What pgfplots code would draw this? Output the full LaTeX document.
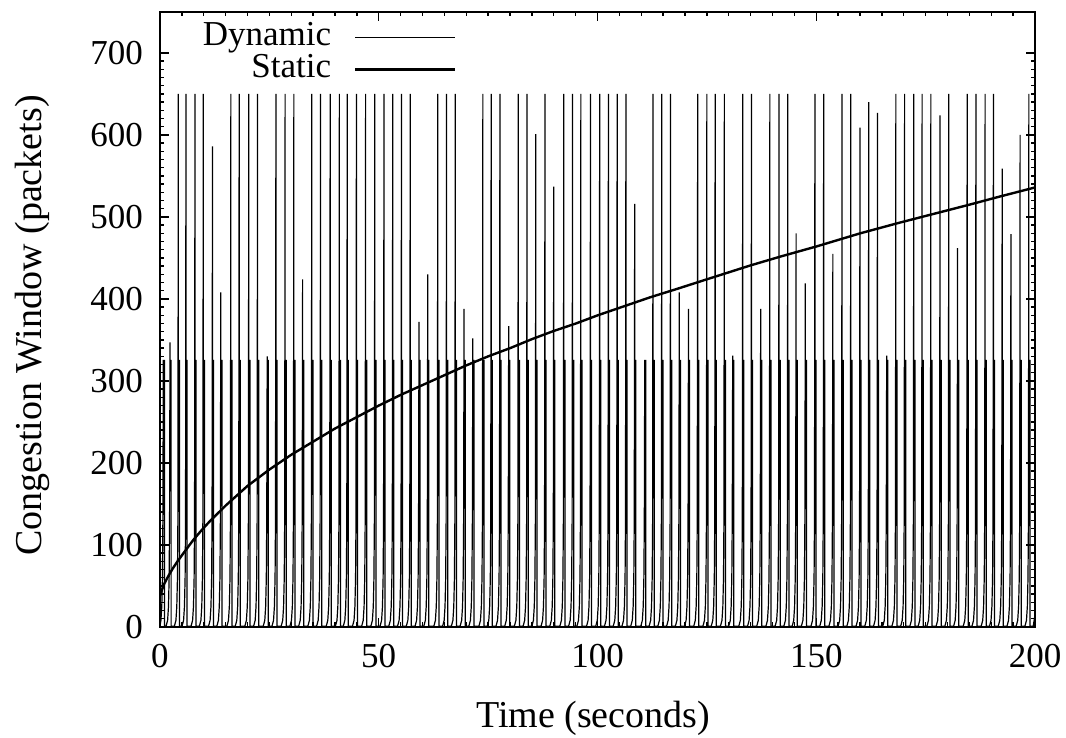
\documentclass[border=0pt]{standalone}
\usepackage{fontspec}
\setmainfont{Liberation Serif}
\usepackage{pgfplots}
\pgfplotsset{compat=1.18}
\begin{document}
\begin{tikzpicture}
\begin{axis}[
  scale only axis, width=437.5pt, height=307.5pt,
  xmin=0, xmax=200, ymin=0, ymax=750,
  xtick={0,50,...,200}, ytick={0,100,...,700},
  minor x tick num=9, minor y tick num=9,
  xtick pos=both, ytick pos=both,
  tick align=inside, major tick length=4.5pt, minor tick length=2.25pt,
  every tick/.style={black, line width=0.7pt},
  axis line style={line width=1pt},
  /pgf/number format/assume math mode=true,
  tick label style={font=\fontsize{17.5pt}{21pt}\selectfont},
  label style={font=\fontsize{19pt}{22pt}\selectfont},
  xlabel={Time (seconds)}, ylabel={Congestion Window (packets)},
  xlabel style={at={(axis description cs:0.495,-0.148)}, anchor=center},
  ylabel style={at={(axis description cs:-0.146,0.49)}, anchor=center},
  yticklabel style={xshift=-5pt},
  xticklabel style={yshift=-5pt},
  legend plot pos=right, legend cell align=right,
  legend image code/.code={\draw[#1] (0pt,0pt) -- (50pt,0pt);},
  legend style={at={(axis description cs:0.3394,0.985)}, anchor=north east,
    draw=none, fill=none, inner sep=0pt, column sep=11.5pt, row sep=0pt,
    font=\fontsize{17.5pt}{21pt}\selectfont,
    nodes={inner sep=0pt, text height=12pt, text depth=4pt}},
]
\addplot[black, line width=0.6pt] coordinates {
(0,1)(0.21,8)(0.41,25)(0.56,60)(0.66,130)(0.76,325)(1.01,325)(1.01,1)
(1.39,1)(1.74,8)(1.94,25)(2.09,60)(2.19,130)(2.29,347)(2.29,325)(2.54,325)(2.54,1)
(3.29,1)(3.64,8)(3.84,25)(3.99,60)(4.09,130)(4.19,650)(4.19,325)(4.44,325)(4.44,1)
(5.04,1)(5.39,8)(5.59,25)(5.74,60)(5.84,130)(5.94,650)(5.94,325)(6.19,325)(6.19,1)
(7.1,1)(7.45,8)(7.65,25)(7.8,60)(7.9,130)(8.0,650)(8.0,325)(8.25,325)(8.25,1)
(9.0,1)(9.35,8)(9.55,25)(9.7,60)(9.8,130)(9.9,650)(9.9,325)(10.15,325)(10.15,1)
(11.1,1)(11.45,8)(11.65,25)(11.8,60)(11.9,130)(12.0,586)(12.0,325)(12.25,325)(12.25,1)
(13.0,1)(13.35,8)(13.55,25)(13.7,60)(13.8,130)(13.9,408)(13.9,325)(14.15,325)(14.15,1)
(15.3,1)(15.65,8)(15.85,25)(16.0,60)(16.1,130)(16.2,650)(16.2,325)(16.45,325)(16.45,1)
(17.2,1)(17.55,8)(17.75,25)(17.9,60)(18.0,130)(18.1,650)(18.1,325)(18.35,325)(18.35,1)
(19.4,1)(19.75,8)(19.95,25)(20.1,60)(20.2,130)(20.3,650)(20.3,325)(20.55,325)(20.55,1)
(21.4,1)(21.75,8)(21.95,25)(22.1,60)(22.2,130)(22.3,650)(22.3,325)(22.55,325)(22.55,1)
(23.6,1)(23.95,8)(24.15,25)(24.3,60)(24.4,130)(24.5,330)(24.5,325)(24.75,325)(24.75,1)
(25.6,1)(25.95,8)(26.15,25)(26.3,60)(26.4,130)(26.5,650)(26.5,325)(26.75,325)(26.75,1)
(27.7,1)(28.05,8)(28.25,25)(28.4,60)(28.5,130)(28.6,650)(28.6,325)(28.85,325)(28.85,1)
(29.7,1)(30.05,8)(30.25,25)(30.4,60)(30.5,130)(30.6,650)(30.6,325)(30.85,325)(30.85,1)
(31.7,1)(32.05,8)(32.25,25)(32.4,60)(32.5,130)(32.6,424)(32.6,325)(32.85,325)(32.85,1)
(33.8,1)(34.15,8)(34.35,25)(34.5,60)(34.6,130)(34.7,650)(34.7,325)(34.95,325)(34.95,1)
(35.8,1)(36.15,8)(36.35,25)(36.5,60)(36.6,130)(36.7,650)(36.7,325)(36.95,325)(36.95,1)
(38.0,1)(38.35,8)(38.55,25)(38.7,60)(38.8,130)(38.9,650)(38.9,325)(39.15,325)(39.15,1)
(40.1,1)(40.45,8)(40.65,25)(40.8,60)(40.9,130)(41.0,650)(41.0,325)(41.25,325)(41.25,1)
(41.9,1)(42.25,8)(42.45,25)(42.6,60)(42.7,130)(42.8,650)(42.8,325)(43.05,325)(43.05,1)
(44.0,1)(44.35,8)(44.55,25)(44.7,60)(44.8,130)(44.9,650)(44.9,325)(45.15,325)(45.15,1)
(46.1,1)(46.45,8)(46.65,25)(46.8,60)(46.9,130)(47.0,650)(47.0,325)(47.25,325)(47.25,1)
(48.2,1)(48.55,8)(48.75,25)(48.9,60)(49.0,130)(49.1,650)(49.1,325)(49.35,325)(49.35,1)
(50.3,1)(50.65,8)(50.85,25)(51.0,60)(51.1,130)(51.2,650)(51.2,325)(51.45,325)(51.45,1)
(52.3,1)(52.65,8)(52.85,25)(53.0,60)(53.1,130)(53.2,650)(53.2,325)(53.45,325)(53.45,1)
(54.3,1)(54.65,8)(54.85,25)(55.0,60)(55.1,130)(55.2,650)(55.2,325)(55.45,325)(55.45,1)
(56.3,1)(56.65,8)(56.85,25)(57.0,60)(57.1,130)(57.2,650)(57.2,325)(57.45,325)(57.45,1)
(58.3,1)(58.65,8)(58.85,25)(59.0,60)(59.1,130)(59.2,372)(59.2,325)(59.45,325)(59.45,1)
(60.3,1)(60.65,8)(60.85,25)(61.0,60)(61.1,130)(61.2,430)(61.2,325)(61.45,325)(61.45,1)
(62.6,1)(62.95,8)(63.15,25)(63.3,60)(63.4,130)(63.5,650)(63.5,325)(63.75,325)(63.75,1)
(64.6,1)(64.95,8)(65.15,25)(65.3,60)(65.4,130)(65.5,650)(65.5,325)(65.75,325)(65.75,1)
(66.6,1)(66.95,8)(67.15,25)(67.3,60)(67.4,130)(67.5,650)(67.5,325)(67.75,325)(67.75,1)
(68.6,1)(68.95,8)(69.15,25)(69.3,60)(69.4,130)(69.5,388)(69.5,325)(69.75,325)(69.75,1)
(70.6,1)(70.95,8)(71.15,25)(71.3,60)(71.4,130)(71.5,352)(71.5,325)(71.75,325)(71.75,1)
(72.9,1)(73.25,8)(73.45,25)(73.6,60)(73.7,130)(73.8,650)(73.8,325)(74.05,325)(74.05,1)
(74.8,1)(75.15,8)(75.35,25)(75.5,60)(75.6,130)(75.7,650)(75.7,325)(75.95,325)(75.95,1)
(76.8,1)(77.15,8)(77.35,25)(77.5,60)(77.6,130)(77.7,650)(77.7,325)(77.95,325)(77.95,1)
(78.8,1)(79.15,8)(79.35,25)(79.5,60)(79.6,130)(79.7,367)(79.7,325)(79.95,325)(79.95,1)
(81.0,1)(81.35,8)(81.55,25)(81.7,60)(81.8,130)(81.9,650)(81.9,325)(82.15,325)(82.15,1)
(83.0,1)(83.35,8)(83.55,25)(83.7,60)(83.8,130)(83.9,650)(83.9,325)(84.15,325)(84.15,1)
(85.0,1)(85.35,8)(85.55,25)(85.7,60)(85.8,130)(85.9,601)(85.9,325)(86.15,325)(86.15,1)
(87.1,1)(87.45,8)(87.65,25)(87.8,60)(87.9,130)(88.0,650)(88.0,325)(88.25,325)(88.25,1)
(89.1,1)(89.45,8)(89.65,25)(89.8,60)(89.9,130)(90.0,537)(90.0,325)(90.25,325)(90.25,1)
(91.4,1)(91.75,8)(91.95,25)(92.1,60)(92.2,130)(92.3,650)(92.3,325)(92.55,325)(92.55,1)
(93.4,1)(93.75,8)(93.95,25)(94.1,60)(94.2,130)(94.3,650)(94.3,325)(94.55,325)(94.55,1)
(95.3,1)(95.65,8)(95.85,25)(96.0,60)(96.1,130)(96.2,650)(96.2,325)(96.45,325)(96.45,1)
(97.5,1)(97.85,8)(98.05,25)(98.2,60)(98.3,130)(98.4,650)(98.4,325)(98.65,325)(98.65,1)
(99.6,1)(99.95,8)(100.15,25)(100.3,60)(100.4,130)(100.5,650)(100.5,325)(100.75,325)(100.75,1)
(101.6,1)(101.95,8)(102.15,25)(102.3,60)(102.4,130)(102.5,650)(102.5,325)(102.75,325)(102.75,1)
(103.6,1)(103.95,8)(104.15,25)(104.3,60)(104.4,130)(104.5,650)(104.5,325)(104.75,325)(104.75,1)
(105.6,1)(105.95,8)(106.15,25)(106.3,60)(106.4,130)(106.5,650)(106.5,325)(106.75,325)(106.75,1)
(107.6,1)(107.95,8)(108.15,25)(108.3,60)(108.4,130)(108.5,516)(108.5,325)(108.75,325)(108.75,1)
(109.9,1)(110.25,8)(110.45,25)(110.6,60)(110.7,130)(110.8,325)(111.05,325)(111.05,1)
(111.8,1)(112.15,8)(112.35,25)(112.5,60)(112.6,130)(112.7,650)(112.7,325)(112.95,325)(112.95,1)
(113.8,1)(114.15,8)(114.35,25)(114.5,60)(114.6,130)(114.7,650)(114.7,325)(114.95,325)(114.95,1)
(115.8,1)(116.15,8)(116.35,25)(116.5,60)(116.6,130)(116.7,650)(116.7,325)(116.95,325)(116.95,1)
(117.8,1)(118.15,8)(118.35,25)(118.5,60)(118.6,130)(118.7,408)(118.7,325)(118.95,325)(118.95,1)
(119.9,1)(120.25,8)(120.45,25)(120.6,60)(120.7,130)(120.8,388)(120.8,325)(121.05,325)(121.05,1)
(122.0,1)(122.35,8)(122.55,25)(122.7,60)(122.8,130)(122.9,650)(122.9,325)(123.15,325)(123.15,1)
(124.1,1)(124.45,8)(124.65,25)(124.8,60)(124.9,130)(125.0,650)(125.0,325)(125.25,325)(125.25,1)
(126.0,1)(126.35,8)(126.55,25)(126.7,60)(126.8,130)(126.9,650)(126.9,325)(127.15,325)(127.15,1)
(128.1,1)(128.45,8)(128.65,25)(128.8,60)(128.9,130)(129.0,650)(129.0,325)(129.25,325)(129.25,1)
(130.0,1)(130.35,8)(130.55,25)(130.7,60)(130.8,130)(130.9,331)(130.9,325)(131.15,325)(131.15,1)
(132.3,1)(132.65,8)(132.85,25)(133.0,60)(133.1,130)(133.2,650)(133.2,325)(133.45,325)(133.45,1)
(134.3,1)(134.65,8)(134.85,25)(135.0,60)(135.1,130)(135.2,650)(135.2,325)(135.45,325)(135.45,1)
(136.4,1)(136.75,8)(136.95,25)(137.1,60)(137.2,130)(137.3,388)(137.3,325)(137.55,325)(137.55,1)
(138.5,1)(138.85,8)(139.05,25)(139.2,60)(139.3,130)(139.4,650)(139.4,325)(139.65,325)(139.65,1)
(140.6,1)(140.95,8)(141.15,25)(141.3,60)(141.4,130)(141.5,650)(141.5,325)(141.75,325)(141.75,1)
(142.6,1)(142.95,8)(143.15,25)(143.3,60)(143.4,130)(143.5,650)(143.5,325)(143.75,325)(143.75,1)
(144.5,1)(144.85,8)(145.05,25)(145.2,60)(145.3,130)(145.4,480)(145.4,325)(145.65,325)(145.65,1)
(146.6,1)(146.95,8)(147.15,25)(147.3,60)(147.4,130)(147.5,419)(147.5,325)(147.75,325)(147.75,1)
(148.8,1)(149.15,8)(149.35,25)(149.5,60)(149.6,130)(149.7,650)(149.7,325)(149.95,325)(149.95,1)
(150.8,1)(151.15,8)(151.35,25)(151.5,60)(151.6,130)(151.7,650)(151.7,325)(151.95,325)(151.95,1)
(152.9,1)(153.25,8)(153.45,25)(153.6,60)(153.7,130)(153.8,455)(153.8,325)(154.05,325)(154.05,1)
(155.0,1)(155.35,8)(155.55,25)(155.7,60)(155.8,130)(155.9,650)(155.9,325)(156.15,325)(156.15,1)
(157.0,1)(157.35,8)(157.55,25)(157.7,60)(157.8,130)(157.9,650)(157.9,325)(158.15,325)(158.15,1)
(159.1,1)(159.45,8)(159.65,25)(159.8,60)(159.9,130)(160.0,609)(160.0,325)(160.25,325)(160.25,1)
(161.1,1)(161.45,8)(161.65,25)(161.8,60)(161.9,130)(162.0,640)(162.0,325)(162.25,325)(162.25,1)
(163.1,1)(163.45,8)(163.65,25)(163.8,60)(163.9,130)(164.0,627)(164.0,325)(164.25,325)(164.25,1)
(165.2,1)(165.55,8)(165.75,25)(165.9,60)(166.0,130)(166.1,331)(166.1,325)(166.35,325)(166.35,1)
(167.3,1)(167.65,8)(167.85,25)(168.0,60)(168.1,130)(168.2,650)(168.2,325)(168.45,325)(168.45,1)
(169.3,1)(169.65,8)(169.85,25)(170.0,60)(170.1,130)(170.2,650)(170.2,325)(170.45,325)(170.45,1)
(171.4,1)(171.75,8)(171.95,25)(172.1,60)(172.2,130)(172.3,650)(172.3,325)(172.55,325)(172.55,1)
(173.3,1)(173.65,8)(173.85,25)(174.0,60)(174.1,130)(174.2,650)(174.2,325)(174.45,325)(174.45,1)
(175.3,1)(175.65,8)(175.85,25)(176.0,60)(176.1,130)(176.2,650)(176.2,325)(176.45,325)(176.45,1)
(177.4,1)(177.75,8)(177.95,25)(178.1,60)(178.2,130)(178.3,624)(178.3,325)(178.55,325)(178.55,1)
(179.4,1)(179.75,8)(179.95,25)(180.1,60)(180.2,130)(180.3,650)(180.3,325)(180.55,325)(180.55,1)
(181.4,1)(181.75,8)(181.95,25)(182.1,60)(182.2,130)(182.3,462)(182.3,325)(182.55,325)(182.55,1)
(183.6,1)(183.95,8)(184.15,25)(184.3,60)(184.4,130)(184.5,650)(184.5,325)(184.75,325)(184.75,1)
(185.6,1)(185.95,8)(186.15,25)(186.3,60)(186.4,130)(186.5,650)(186.5,325)(186.75,325)(186.75,1)
(187.7,1)(188.05,8)(188.25,25)(188.4,60)(188.5,130)(188.6,650)(188.6,325)(188.85,325)(188.85,1)
(189.6,1)(189.95,8)(190.15,25)(190.3,60)(190.4,130)(190.5,650)(190.5,325)(190.75,325)(190.75,1)
(191.6,1)(191.95,8)(192.15,25)(192.3,60)(192.4,130)(192.5,559)(192.5,325)(192.75,325)(192.75,1)
(193.6,1)(193.95,8)(194.15,25)(194.3,60)(194.4,130)(194.5,479)(194.5,325)(194.75,325)(194.75,1)
(195.7,1)(196.05,8)(196.25,25)(196.4,60)(196.5,130)(196.6,600)(196.6,325)(196.85,325)(196.85,1)
(197.7,1)(198.05,8)(198.25,25)(198.4,60)(198.5,130)(198.6,650)(198.6,325)(198.85,325)(198.85,1)
(199.6,1)(200,15)
};
\addlegendentry{Dynamic}
\addplot[black, line width=1.2pt] coordinates {
(0,38)(0.5,46)(1,53)(2,63)(3,72)(4,80)(5.5,91)(7.6,106)(9.5,118)(11.4,129)(13.3,139)(15.2,149)(17.5,160)(20,172)(22.5,182)(25,192)(27.5,201)(30,210)(35,226)(40,242)(45,256)(50,270)(55,283)(60,295)(65,307)(70,319)(75,330)(80,340)(85,351)(90,361)(95,370)(100,380)(106,391)(112,402)(118,412)(125,424)(135,441)(142,452)(150,464)(160,480)(169,493)(177,504)(185,515)(192,525)(200,536)
};
\addlegendentry{Static}
\coordinate (sw) at (rel axis cs:0,0);
\coordinate (ne) at (rel axis cs:1,1);
\end{axis}
\pgfresetboundingbox
\path[use as bounding box] ([xshift=-80pt,yshift=-55.5pt]sw) rectangle ([xshift=15.5pt,yshift=6pt]ne);
\end{tikzpicture}
\end{document}
